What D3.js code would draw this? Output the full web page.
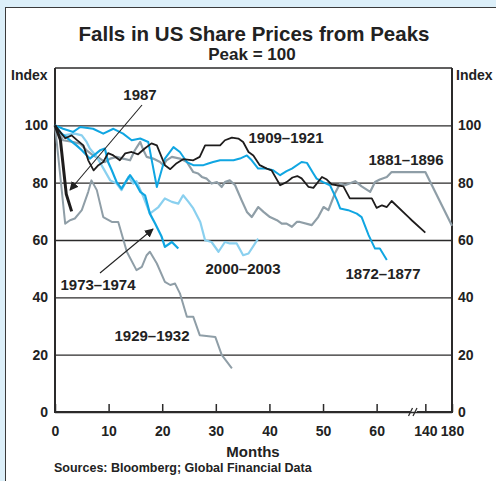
<!DOCTYPE html>
<html><head><meta charset="utf-8">
<script src="https://cdn.jsdelivr.net/npm/d3@7"></script>
<style>
html,body{margin:0;padding:0;background:#dceff9;}
svg{display:block;font-family:"Liberation Sans",Arial,Helvetica,sans-serif;}
</style></head><body>
<svg id="c" width="496" height="481"></svg>
<script>
// ---- data: [months from peak, index (peak = 100)] ----
const xTickValues = [0,10,20,30,40,50,60,140,180];
const yTickValues = [0,20,40,60,80,100];
const s1987 = [[0,100],[1,95],[2.1,76],[3.1,70]];
const s1909 = [[0,100],[1.9,95.5],[3.1,96.5],[4,95],[5.3,93],[6.2,87.8],[7.2,84.3],[8.1,86.1],[9,87.2],[9.9,90.3],[10.9,89.5],[12.1,87.8],[13.1,90.2],[14.3,90.7],[15.5,89.9],[16.8,92],[18,93.7],[19,93],[20.5,86.1],[21.5,84.7],[22.7,86.8],[23.9,88.2],[25.8,87.8],[27,89],[28,93],[30.8,93],[31.7,94.8],[33,95.7],[34.2,95.4],[35.1,94.2],[36.1,90.7],[37,89.5],[38.2,86.1],[39.5,84.9],[40.4,84.3],[42,79.1],[43.2,80.2],[44.3,81.8],[45.2,82.3],[46,81.5],[47.3,78.5],[48.2,78.2],[49.8,82],[50.7,81.1],[51.6,79.4],[52.6,79.1],[53.8,78.7],[55,74.5],[59.1,74.5],[60,71.2],[61,72.1],[61.9,71.5],[62.8,73.6],[66,67.9],[120,66.8],[140,62.6]];
const s1872 = [[0,100],[1.5,98.8],[3.4,97.7],[4.7,99.4],[7.1,98.8],[9,97.1],[10.9,98.8],[12.7,97.1],[14.3,94.8],[15.9,95.4],[17.4,94.2],[19,78.5],[20.5,88.4],[22.1,92.4],[23.3,90.7],[24.6,87.2],[25.8,86.1],[27.7,86.1],[28.6,86.7],[29.5,87.2],[30.8,87.8],[31.7,87.8],[33.3,87.8],[34.5,88.4],[35.8,89.5],[36.7,87.8],[37.9,84.9],[39.5,84.9],[40.7,84.3],[42,82.6],[43.2,84],[44.2,84.9],[46,87.2],[47,86.9],[48.2,83.2],[48.8,81.4],[50,80.2],[51.3,79.1],[52.6,73.9],[53.2,71],[54.7,70.4],[56.3,69.2],[57.2,68],[58.5,61.7],[59.7,57],[60.6,57],[61.9,53]];
const s1973 = [[0,100],[1,97.5],[2,96],[3,94.5],[4,93],[5,91.3],[6.5,88.4],[8.4,91.3],[9.3,91.9],[9.9,87.2],[10.6,84.3],[11.5,80.2],[12.4,77.9],[14,82.6],[14.9,80.2],[15.9,76.8],[16.8,75.6],[17.7,69.2],[18.7,65.7],[19.9,61.1],[20.5,57.6],[21.8,59.3],[23,57]];
const s2000 = [[0,100],[1.5,96.5],[3.7,97.1],[5,96.5],[5.9,94.2],[6.5,91.9],[7.8,89],[10.3,80.8],[11.5,79.7],[12.4,77.4],[13.7,82],[14.6,79.7],[15.2,80.5],[16.5,75],[17.7,69.2],[19.3,71.5],[20.5,74.5],[21.8,73.3],[23,72.7],[23.9,75.6],[24.9,73.3],[25.8,71],[27.1,66.3],[28,59.9],[29.2,59.3],[30.5,55.9],[31.7,59.3],[32.6,58.8],[33.9,58.8],[35.1,54.7],[36.1,55.3],[37.9,60.5]];
const s1881 = [[0,100],[1.5,94.8],[3.4,94.2],[4.7,93.6],[5.9,91.3],[7.1,89.5],[8.4,88.4],[9.3,87.2],[10.3,88.4],[11.5,89],[12.7,88.4],[14,87.8],[14.9,91.3],[15.9,94.2],[16.5,91.3],[17.1,89],[18.3,88.4],[19.6,87.2],[20.2,86.1],[20.8,87.8],[21.8,89],[23.3,88.4],[24.6,87.2],[25.8,83.7],[26.7,83.2],[27.4,82],[28.3,81.4],[29.2,79.7],[30.2,80.2],[31.1,78.5],[31.7,80.2],[32.6,80.8],[33.6,79.1],[34.8,73.9],[35.8,69.8],[36.7,68],[37.9,71.5],[38.9,69.8],[40.1,68],[41.4,66.9],[42.3,65.7],[43.2,65.7],[44.2,64.6],[45.1,66.3],[45.7,66.3],[47.9,65.2],[49.1,68],[50.1,71.5],[51,70.4],[52.2,76.2],[53.2,79.7],[54.1,79.1],[56,80.5],[57.2,78.7],[58.8,76.8],[59.7,80.2],[60.6,81.1],[61.9,82],[62.8,83.7],[66,83.7],[120,83.7],[140,83.7],[180,65]];
const s1929 = [[0,100],[1,82],[1.9,65.7],[2.8,66.9],[3.7,67.5],[5,70.4],[6.2,76.8],[6.8,80.8],[7.8,77.4],[9,68],[10.6,66.3],[11.8,66.3],[13.4,55.9],[15.2,49.5],[16.2,50.6],[17.1,54.7],[17.7,55.9],[19,51.8],[20.5,45.4],[21.5,44.3],[22.4,44.8],[23.3,41.4],[24.6,33.2],[25.8,33.2],[27,26.8],[29.9,26.2],[31.1,19.9],[33,15.2]];

// ---- layout ----
const svg = d3.select("#c");
const L = 55, R = 452, T = 68, B = 412;
const x = d3.scaleLinear().domain([0,66,120,180]).range([L,408.8,412,R]);
const y = d3.scaleLinear().domain([0,120]).range([B,T]);
const DARK = "#2b2a2a";
const FONT = "Liberation Sans, Arial, sans-serif";

svg.append("rect").attr("width",496).attr("height",481).attr("fill","#dceff9");
svg.append("rect").attr("x",5.5).attr("y",7.5).attr("width",491).attr("height",480)
  .attr("fill","#fff").attr("stroke","#3a3a3a").attr("stroke-width",1);

// title
svg.append("text").attr("x",254).attr("y",41).attr("text-anchor","middle")
  .attr("font-size",20.5).attr("font-weight","bold").attr("fill","#222").text("Falls in US Share Prices from Peaks");
svg.append("text").attr("x",252).attr("y",60).attr("text-anchor","middle")
  .attr("font-size",17).attr("font-weight","bold").attr("fill","#222").text("Peak = 100");
svg.append("text").attr("x",11).attr("y",80).attr("font-size",14).attr("font-weight","bold").attr("fill","#222").text("Index");
svg.append("text").attr("x",456).attr("y",80).attr("font-size",14).attr("font-weight","bold").attr("fill","#222").text("Index");

// y gridlines + left labels
const yl = svg.append("g").attr("transform",`translate(${L},0)`)
  .call(d3.axisLeft(y).tickValues(yTickValues).tickSize(-(R-L)).tickPadding(7));
yl.select(".domain").remove();
yl.selectAll(".tick line").attr("stroke",DARK).attr("stroke-width",1.3);
yl.selectAll(".tick text").attr("font-size",14).attr("font-weight","bold").attr("fill","#222").attr("font-family",FONT);
const yr = svg.append("g").attr("transform",`translate(${R},0)`)
  .call(d3.axisRight(y).tickValues(yTickValues).tickSize(0).tickPadding(6));
yr.select(".domain").remove();
yr.selectAll(".tick text").attr("font-size",14).attr("font-weight","bold").attr("fill","#222").attr("font-family",FONT);

// frame
svg.append("line").attr("x1",L).attr("x2",R).attr("y1",y(120)).attr("y2",y(120)).attr("stroke",DARK).attr("stroke-width",1.3);
svg.append("line").attr("x1",L).attr("x2",L).attr("y1",y(120)).attr("y2",B+1).attr("stroke",DARK).attr("stroke-width",2);
svg.append("line").attr("x1",R).attr("x2",R).attr("y1",y(120)).attr("y2",B+1).attr("stroke",DARK).attr("stroke-width",2);

// x axis
const xa = svg.append("g").attr("transform",`translate(0,${B})`)
  .call(d3.axisBottom(x).tickValues(xTickValues).tickSize(-8).tickPadding(14));
xa.select(".domain").remove();
xa.selectAll(".tick line").attr("stroke",DARK).attr("stroke-width",1.5);
xa.selectAll(".tick text").attr("font-size",14).attr("font-weight","bold").attr("fill","#222").attr("font-family",FONT);
// axis line with break
svg.append("line").attr("x1",L-1).attr("x2",410).attr("y1",B).attr("y2",B).attr("stroke",DARK).attr("stroke-width",2);
svg.append("line").attr("x1",417).attr("x2",R+1).attr("y1",B).attr("y2",B).attr("stroke",DARK).attr("stroke-width",2);
[410.5,415].forEach(bx=>{
  svg.append("line").attr("x1",bx-2).attr("x2",bx+2).attr("y1",B+4).attr("y2",B-4).attr("stroke",DARK).attr("stroke-width",1.3);
});
svg.append("text").attr("x",253).attr("y",457).attr("text-anchor","middle").attr("font-size",15).attr("font-weight","bold").attr("fill","#222").text("Months");
svg.append("text").attr("x",54).attr("y",472).attr("font-size",12.5).attr("font-weight","bold").attr("fill","#222").text("Sources: Bloomberg; Global Financial Data");

// series
const line = d3.line().x(d=>x(d[0])).y(d=>y(d[1]));
const GREY = "#8f9ea7", LBLUE = "#8ad0ef", BLUE = "#10a6e2", BLACK = "#1e1c1c";
const draw = (data,color,w)=>svg.append("path").datum(data).attr("d",line)
  .attr("fill","none").attr("stroke",color).attr("stroke-width",w).attr("stroke-linejoin","round");
draw(s1929,GREY,2);
draw(s1881,GREY,2.2);
draw(s2000,LBLUE,2.2);
draw(s1872,BLUE,2);
draw(s1973,BLUE,2.2);
draw(s1909,BLACK,1.8);
draw(s1987,BLACK,3);

// labels & arrows
const lab = (t,cx,by)=>svg.append("text").attr("x",cx).attr("y",by).attr("text-anchor","middle")
  .attr("font-size",15).attr("font-weight","bold").attr("fill","#222").text(t);
lab("1987",140,100);
lab("1909–1921",286,143);
lab("1881–1896",406,165);
lab("2000–2003",243,274);
lab("1872–1877",383,279);
lab("1973–1974",98,290);
lab("1929–1932",152,341);

svg.append("defs").append("marker").attr("id","ah").attr("viewBox","0 0 10 10")
  .attr("refX",9).attr("refY",5).attr("markerWidth",9).attr("markerHeight",9).attr("markerUnits","userSpaceOnUse")
  .attr("orient","auto").append("path").attr("d","M0,0 L10,5 L0,10 Z").attr("fill","#222");
const arrow = (x1,y1,x2,y2)=>svg.append("line").attr("x1",x1).attr("y1",y1).attr("x2",x2).attr("y2",y2)
  .attr("stroke","#222").attr("stroke-width",1.1).attr("marker-end","url(#ah)");
arrow(142,105,70,190);
arrow(100,273,153,229);
</script></body></html>
